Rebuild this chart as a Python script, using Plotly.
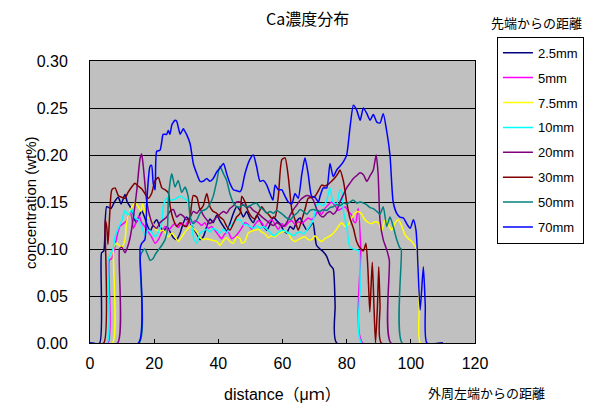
import plotly.graph_objects as go

names = ["2.5mm", "5mm", "7.5mm", "10mm", "20mm", "30mm", "50mm", "70mm"]
colors = ["#000080", "#FF00FF", "#FFFF00", "#00FFFF", "#800080", "#800000", "#008080", "#0000FF"]

x_25 = [0, 3.0, 3.6, 4.3, 5.2, 6.5, 7.6, 8.8, 9.7, 10.9, 11.6, 12.5, 13.5, 14.3, 15.1, 16.1, 17.1, 18.0, 18.8, 19.7, 20.8, 21.8, 23.0, 24.0, 25.0, 26.0, 27.0, 28.1, 29.1, 30.1, 31.2, 32.2, 33.3, 34.3, 35.3, 36.4, 37.4, 38.4, 39.5, 40.5, 41.6, 42.6, 43.6, 44.7, 45.7, 46.8, 47.8, 48.8, 49.8, 50.9, 52.0, 53.0, 54.1, 55.1, 56.1, 57.2, 58.2, 59.2, 60.3, 61.3, 62.4, 63.4, 64.5, 65.5, 66.5, 67.6, 68.6, 69.5, 70.6, 71.7, 72.7, 73.8, 74.8, 75.8, 76.4, 76.9, 110]
y_25 = [0, 0, 0.096, 0.098, 0.145, 0.143, 0.150, 0.155, 0.148, 0.158, 0.150, 0.145, 0.137, 0.128, 0.133, 0.141, 0.133, 0.124, 0.119, 0.126, 0.131, 0.124, 0.119, 0.124, 0.118, 0.112, 0.110, 0.117, 0.128, 0.134, 0.128, 0.122, 0.116, 0.110, 0.113, 0.124, 0.132, 0.128, 0.136, 0.130, 0.124, 0.119, 0.127, 0.138, 0.145, 0.141, 0.134, 0.140, 0.133, 0.128, 0.136, 0.130, 0.124, 0.120, 0.126, 0.134, 0.130, 0.127, 0.120, 0.117, 0.124, 0.121, 0.130, 0.133, 0.126, 0.120, 0.124, 0.128, 0.104, 0.100, 0.097, 0.092, 0.083, 0.079, 0.040, 0.0, 0]

x_5 = [0, 5.6, 6.0, 6.8, 7.5, 8.3, 9.3, 10.4, 11.4, 12.5, 13.0, 13.5, 14.3, 15.3, 16.1, 17.1, 18.2, 19.2, 20.3, 21.3, 22.4, 23.4, 24.4, 25.5, 26.5, 27.5, 28.6, 29.6, 30.6, 31.7, 32.7, 33.8, 34.8, 35.8, 36.9, 37.9, 38.9, 40.0, 41.0, 42.0, 43.1, 44.1, 45.2, 46.2, 47.2, 48.3, 49.3, 50.4, 51.4, 52.4, 53.5, 54.5, 55.6, 56.6, 57.7, 58.7, 59.8, 60.8, 61.8, 62.9, 63.9, 65.0, 66.0, 67.0, 68.0, 69.1, 70.1, 71.2, 72.2, 73.2, 74.3, 75.3, 76.4, 77.4, 78.4, 79.5, 80.5, 81.6, 82.1, 82.8, 83.6, 84.4, 85.0, 110]
y_5 = [0, 0, 0.088, 0.090, 0.098, 0.112, 0.124, 0.127, 0.130, 0.140, 0.134, 0.122, 0.128, 0.135, 0.128, 0.124, 0.118, 0.113, 0.106, 0.110, 0.118, 0.124, 0.120, 0.124, 0.127, 0.123, 0.128, 0.124, 0.130, 0.127, 0.130, 0.128, 0.125, 0.128, 0.122, 0.124, 0.120, 0.115, 0.111, 0.116, 0.118, 0.111, 0.113, 0.117, 0.122, 0.128, 0.126, 0.121, 0.126, 0.130, 0.128, 0.123, 0.129, 0.131, 0.126, 0.121, 0.127, 0.124, 0.128, 0.130, 0.126, 0.129, 0.127, 0.130, 0.133, 0.131, 0.135, 0.141, 0.137, 0.143, 0.147, 0.150, 0.146, 0.141, 0.143, 0.145, 0.140, 0.136, 0.130, 0.128, 0.143, 0.100, 0.0, 0]

x_75 = [0, 7.0, 7.4, 8.3, 9.9, 10.9, 11.4, 12.5, 14.0, 14.9, 15.9, 16.4, 17.7, 18.9, 20.3, 21.5, 22.8, 24.4, 25.5, 26.5, 27.5, 28.6, 29.6, 31.2, 32.2, 33.3, 34.3, 35.3, 36.4, 37.4, 38.4, 39.5, 40.5, 41.6, 42.6, 43.6, 44.7, 45.7, 46.8, 47.3, 48.3, 49.3, 50.4, 51.4, 52.5, 53.5, 54.6, 55.6, 56.6, 57.7, 58.7, 59.8, 60.8, 61.8, 62.9, 63.9, 64.9, 66.0, 67.0, 68.0, 69.1, 70.1, 71.2, 72.2, 73.2, 74.3, 75.3, 76.4, 77.4, 78.4, 79.5, 80.5, 81.6, 82.6, 83.6, 84.7, 85.7, 86.8, 87.8, 88.8, 89.9, 90.9, 92.0, 93.0, 94.0, 95.1, 96.1, 97.2, 98.2, 99.2, 100.3, 101.3, 102.0, 102.6, 103.0, 110]
y_75 = [0, 0, 0.102, 0.106, 0.102, 0.110, 0.128, 0.141, 0.149, 0.146, 0.140, 0.148, 0.134, 0.132, 0.122, 0.119, 0.120, 0.113, 0.117, 0.113, 0.108, 0.113, 0.118, 0.124, 0.122, 0.118, 0.112, 0.110, 0.111, 0.110, 0.109, 0.108, 0.104, 0.109, 0.112, 0.108, 0.106, 0.113, 0.111, 0.106, 0.108, 0.117, 0.119, 0.120, 0.121, 0.118, 0.116, 0.112, 0.114, 0.113, 0.116, 0.118, 0.119, 0.117, 0.110, 0.108, 0.110, 0.112, 0.113, 0.110, 0.110, 0.114, 0.110, 0.108, 0.111, 0.113, 0.115, 0.119, 0.124, 0.128, 0.124, 0.126, 0.133, 0.138, 0.140, 0.137, 0.131, 0.128, 0.127, 0.129, 0.128, 0.120, 0.131, 0.126, 0.120, 0.128, 0.131, 0.124, 0.115, 0.111, 0.108, 0.103, 0.098, 0.040, 0.0, 0]

x_10 = [0, 5.3, 5.6, 6.3, 7.2, 7.8, 8.8, 9.9, 10.9, 11.8, 13.0, 14.0, 15.1, 16.1, 17.1, 18.2, 19.2, 20.3, 21.3, 22.4, 22.8, 23.9, 25.0, 26.5, 28.1, 30.1, 31.2, 32.2, 33.3, 34.3, 35.3, 36.4, 37.4, 38.4, 39.5, 40.5, 41.6, 42.6, 43.6, 44.7, 45.7, 46.8, 47.8, 48.8, 49.8, 50.9, 51.9, 53.0, 54.0, 55.1, 56.1, 57.2, 58.2, 59.2, 60.3, 61.3, 62.4, 63.4, 64.5, 65.5, 66.5, 67.6, 68.6, 69.6, 70.7, 71.7, 72.7, 73.8, 74.8, 75.8, 76.9, 77.9, 78.5, 79.0, 80.0, 81.0, 82.1, 83.1, 83.8, 84.2, 84.6, 110]
y_10 = [0, 0, 0.088, 0.094, 0.100, 0.113, 0.122, 0.130, 0.141, 0.136, 0.142, 0.133, 0.131, 0.124, 0.115, 0.120, 0.118, 0.113, 0.118, 0.128, 0.145, 0.154, 0.152, 0.153, 0.156, 0.152, 0.142, 0.113, 0.106, 0.117, 0.119, 0.121, 0.118, 0.122, 0.120, 0.117, 0.121, 0.117, 0.124, 0.128, 0.131, 0.131, 0.126, 0.126, 0.124, 0.122, 0.125, 0.122, 0.124, 0.121, 0.118, 0.114, 0.116, 0.119, 0.120, 0.118, 0.116, 0.114, 0.117, 0.118, 0.116, 0.120, 0.125, 0.131, 0.147, 0.148, 0.146, 0.152, 0.165, 0.150, 0.148, 0.163, 0.161, 0.140, 0.124, 0.102, 0.100, 0.099, 0.098, 0.060, 0.0, 0]

x_20 = [0, 8.6, 9.2, 9.9, 10.9, 11.6, 12.5, 13.5, 14.6, 15.6, 16.1, 16.6, 17.7, 18.7, 19.7, 20.8, 21.8, 22.8, 23.9, 24.9, 26.0, 27.0, 28.1, 29.1, 30.1, 31.2, 32.2, 33.3, 34.3, 35.3, 36.4, 37.4, 38.4, 39.5, 40.5, 41.6, 42.6, 43.6, 44.7, 45.7, 46.8, 47.8, 48.8, 49.8, 50.9, 51.9, 53.0, 54.0, 55.1, 56.1, 57.2, 58.2, 59.2, 60.3, 61.3, 62.4, 63.4, 64.5, 65.5, 66.5, 67.6, 68.6, 69.6, 70.7, 71.7, 72.7, 73.8, 74.8, 75.8, 76.9, 77.9, 79.0, 80.0, 81.0, 82.1, 83.1, 84.2, 85.2, 86.3, 87.3, 88.3, 89.2, 89.8, 90.4, 91.4, 92.5, 93.3, 93.8, 110]
y_20 = [0, 0, 0.100, 0.102, 0.096, 0.101, 0.112, 0.133, 0.163, 0.196, 0.201, 0.188, 0.150, 0.134, 0.125, 0.122, 0.128, 0.131, 0.134, 0.140, 0.142, 0.134, 0.137, 0.135, 0.131, 0.134, 0.140, 0.138, 0.142, 0.136, 0.131, 0.127, 0.130, 0.134, 0.137, 0.140, 0.138, 0.143, 0.146, 0.150, 0.150, 0.147, 0.144, 0.145, 0.141, 0.139, 0.136, 0.133, 0.130, 0.127, 0.125, 0.128, 0.126, 0.124, 0.128, 0.136, 0.142, 0.147, 0.152, 0.155, 0.157, 0.156, 0.152, 0.142, 0.136, 0.134, 0.138, 0.140, 0.137, 0.141, 0.150, 0.158, 0.165, 0.170, 0.175, 0.178, 0.181, 0.179, 0.172, 0.178, 0.184, 0.200, 0.180, 0.130, 0.110, 0.099, 0.088, 0.0, 0]

x_30 = [0, 4.3, 4.7, 5.2, 5.6, 6.2, 6.8, 7.8, 8.8, 9.9, 10.9, 11.8, 13.0, 14.0, 15.0, 16.1, 17.1, 18.2, 19.2, 20.3, 21.3, 22.4, 23.4, 24.4, 25.0, 26.0, 27.0, 28.1, 29.1, 30.1, 31.2, 32.2, 33.3, 34.3, 35.3, 36.4, 37.4, 38.4, 39.5, 40.5, 41.6, 42.6, 43.6, 44.7, 45.7, 46.8, 47.3, 48.3, 49.3, 50.4, 51.4, 52.5, 53.5, 54.6, 55.6, 56.6, 57.7, 58.7, 59.8, 60.8, 61.8, 62.9, 63.9, 64.9, 66.0, 67.0, 68.0, 69.1, 70.1, 71.2, 72.2, 73.2, 74.3, 75.3, 76.4, 77.4, 77.9, 79.0, 80.0, 81.0, 82.1, 83.1, 84.2, 85.2, 86.0, 86.6, 87.2, 87.6, 88.0, 88.5, 89.0, 89.6, 90.0, 90.4, 90.8, 110]
y_30 = [0, 0, 0.131, 0.124, 0.105, 0.140, 0.163, 0.165, 0.157, 0.155, 0.154, 0.160, 0.166, 0.170, 0.167, 0.164, 0.159, 0.154, 0.159, 0.173, 0.176, 0.165, 0.163, 0.160, 0.145, 0.131, 0.124, 0.128, 0.125, 0.124, 0.135, 0.157, 0.155, 0.142, 0.146, 0.159, 0.145, 0.140, 0.138, 0.134, 0.131, 0.124, 0.120, 0.127, 0.134, 0.138, 0.156, 0.150, 0.140, 0.134, 0.132, 0.138, 0.145, 0.140, 0.137, 0.133, 0.134, 0.156, 0.195, 0.197, 0.177, 0.142, 0.131, 0.120, 0.131, 0.142, 0.154, 0.155, 0.156, 0.162, 0.168, 0.167, 0.169, 0.172, 0.176, 0.181, 0.184, 0.172, 0.150, 0.133, 0.122, 0.108, 0.101, 0.098, 0.106, 0.080, 0.033, 0.060, 0.086, 0.040, 0.0, 0.040, 0.081, 0.040, 0.0, 0]

x_50 = [0, 15.3, 15.6, 16.1, 17.1, 18.2, 18.7, 19.7, 20.3, 21.3, 22.4, 23.4, 24.1, 24.4, 25.0, 25.5, 26.5, 27.5, 28.6, 29.6, 30.6, 31.2, 32.2, 33.3, 34.3, 35.3, 36.4, 37.4, 38.4, 39.5, 40.5, 41.6, 42.6, 43.6, 44.7, 45.7, 46.8, 47.8, 48.8, 49.8, 50.9, 51.9, 53.0, 54.0, 55.1, 56.1, 57.2, 58.2, 59.2, 60.3, 61.3, 62.4, 63.4, 64.5, 65.5, 66.5, 67.6, 68.6, 69.6, 70.7, 71.7, 72.7, 73.8, 74.8, 75.8, 76.9, 77.9, 79.0, 80.0, 81.0, 82.1, 83.1, 84.2, 85.2, 86.3, 87.3, 88.3, 89.4, 90.4, 91.4, 92.5, 93.5, 94.5, 95.6, 96.6, 97.0, 97.3, 110]
y_50 = [0, 0, 0.090, 0.096, 0.100, 0.092, 0.088, 0.090, 0.094, 0.099, 0.104, 0.110, 0.120, 0.150, 0.172, 0.180, 0.166, 0.173, 0.160, 0.166, 0.156, 0.134, 0.127, 0.131, 0.138, 0.141, 0.143, 0.148, 0.156, 0.172, 0.188, 0.180, 0.173, 0.159, 0.149, 0.145, 0.145, 0.147, 0.145, 0.146, 0.148, 0.149, 0.144, 0.142, 0.138, 0.140, 0.138, 0.141, 0.139, 0.136, 0.133, 0.131, 0.135, 0.138, 0.142, 0.140, 0.137, 0.141, 0.142, 0.141, 0.140, 0.142, 0.141, 0.144, 0.145, 0.147, 0.146, 0.149, 0.148, 0.150, 0.152, 0.149, 0.150, 0.149, 0.147, 0.144, 0.143, 0.140, 0.137, 0.145, 0.124, 0.134, 0.124, 0.110, 0.101, 0.100, 0.0, 0]

x_70 = [0, 15.1, 15.6, 16.1, 17.1, 17.7, 18.7, 19.2, 19.7, 20.3, 20.8, 21.8, 22.4, 22.8, 23.9, 24.4, 24.9, 25.5, 26.0, 26.5, 27.0, 28.1, 28.6, 29.1, 29.6, 30.1, 31.2, 32.2, 33.3, 34.3, 35.3, 36.4, 37.4, 38.4, 39.5, 40.5, 41.6, 42.6, 43.6, 44.7, 45.7, 46.8, 47.3, 48.3, 49.8, 50.9, 51.9, 53.0, 54.0, 55.1, 56.1, 57.0, 57.7, 58.7, 59.8, 60.8, 61.8, 62.9, 63.9, 64.9, 66.0, 67.0, 68.0, 69.1, 70.1, 71.2, 71.7, 72.7, 73.8, 74.8, 75.8, 76.9, 77.9, 79.0, 80.0, 81.0, 82.1, 83.1, 84.2, 85.2, 86.3, 87.3, 88.3, 89.4, 90.4, 91.4, 92.5, 93.5, 94.5, 95.6, 96.6, 97.7, 98.7, 99.8, 100.8, 101.6, 102.0, 102.9, 103.9, 104.5, 105.0, 110]
y_70 = [0, 0, 0.100, 0.106, 0.110, 0.150, 0.188, 0.189, 0.170, 0.163, 0.204, 0.205, 0.215, 0.222, 0.222, 0.226, 0.222, 0.232, 0.235, 0.237, 0.236, 0.222, 0.225, 0.228, 0.225, 0.222, 0.212, 0.191, 0.180, 0.172, 0.172, 0.175, 0.172, 0.175, 0.182, 0.186, 0.191, 0.180, 0.170, 0.163, 0.162, 0.161, 0.164, 0.180, 0.195, 0.200, 0.188, 0.172, 0.173, 0.168, 0.159, 0.152, 0.168, 0.163, 0.163, 0.156, 0.150, 0.148, 0.159, 0.154, 0.179, 0.197, 0.180, 0.156, 0.155, 0.150, 0.156, 0.165, 0.165, 0.191, 0.177, 0.184, 0.188, 0.193, 0.200, 0.228, 0.253, 0.248, 0.237, 0.250, 0.244, 0.237, 0.243, 0.235, 0.234, 0.244, 0.225, 0.200, 0.150, 0.138, 0.134, 0.133, 0.127, 0.122, 0.131, 0.120, 0.100, 0.035, 0.081, 0.040, 0.0, 0]

xs = [x_25, x_5, x_75, x_10, x_20, x_30, x_50, x_70]
ys = [y_25, y_5, y_75, y_10, y_20, y_30, y_50, y_70]

x_ticks = [0, 20, 40, 60, 80, 100, 120]
y_ticks = [0.00, 0.05, 0.10, 0.15, 0.20, 0.25, 0.30]

FONT = "Liberation Sans, Arial, Noto Sans CJK JP, sans-serif"
CJK = "Noto Sans CJK JP, sans-serif"

fig = go.Figure()
for n, c, xv, yv in zip(names, colors, xs, ys):
    fig.add_trace(go.Scatter(x=xv, y=yv, mode="lines", name=n, legendgroup=n,
                             line=dict(color=c, width=1.5, shape="spline", smoothing=0.6)))

fig.update_layout(
    width=589, height=403,
    margin=dict(l=90, r=114, t=61, b=60, autoexpand=False),
    paper_bgcolor="white", plot_bgcolor="#C0C0C0",
    font=dict(family=FONT, size=13, color="black"),
    showlegend=True,
    legend=dict(x=1.057, y=1.086, xanchor="left", yanchor="top",
                bordercolor="black", borderwidth=1, bgcolor="white",
                font=dict(size=13, family=FONT), tracegroupgap=5,
                itemwidth=30, maxheight=380),
    xaxis=dict(range=[0, 120], tickvals=x_ticks, ticktext=[str(v) for v in x_ticks],
               showgrid=False, zeroline=False, showline=True, linecolor="black",
               linewidth=1, mirror=True, ticks="inside", ticklen=4, tickcolor="black",
               tickfont=dict(size=16), ticklabelstandoff=6),
    yaxis=dict(range=[0, 0.30], tickvals=y_ticks, ticktext=["%.2f" % v for v in y_ticks],
               showgrid=True, gridcolor="black", gridwidth=1, zeroline=False,
               showline=True, linecolor="black", linewidth=1, mirror=True,
               ticks="", tickfont=dict(size=16), ticklabelstandoff=18),
)

fig.add_annotation(text="Ca濃度分布", xref="paper", yref="paper", x=0.566, y=1.152,
                   showarrow=False, font=dict(size=16, family=CJK), xanchor="center", yanchor="middle")
fig.add_annotation(text="先端からの距離", xref="paper", yref="paper", x=1.161, y=1.136,
                   showarrow=False, font=dict(size=13, family=CJK), xanchor="center", yanchor="middle")
fig.add_annotation(text="distance（μｍ）", xref="paper", yref="paper", x=0.5, y=-0.184,
                   showarrow=False, font=dict(size=16, family=FONT), xanchor="center", yanchor="middle")
fig.add_annotation(text="外周左端からの距離", xref="paper", yref="paper", x=1.031, y=-0.177,
                   showarrow=False, font=dict(size=13, family=CJK), xanchor="center", yanchor="middle")
fig.add_annotation(text="concentration (wt%)", xref="paper", yref="paper", x=-0.156, y=0.5,
                   showarrow=False, textangle=-90, font=dict(size=15, family=FONT),
                   xanchor="center", yanchor="middle")

fig.write_html("out.html")
